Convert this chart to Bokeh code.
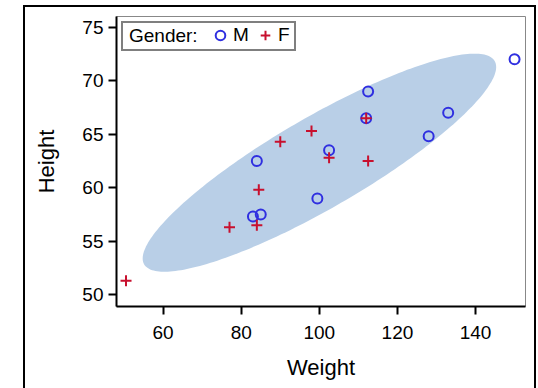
import numpy as np
from bokeh.plotting import figure
from bokeh.models import Range1d, Legend, LegendItem, FixedTicker
from bokeh.embed import file_html
from bokeh.resources import INLINE

# sashelp.class: Weight / Height by gender
male_weight = [112.5, 102.5, 83.0, 84.0, 99.5, 150.0, 128.0, 133.0, 85.0, 112.0]
male_height = [69.0, 63.5, 57.3, 62.5, 59.0, 72.0, 64.8, 67.0, 57.5, 66.5]
female_weight = [84.0, 98.0, 102.5, 84.5, 112.5, 50.5, 90.0, 77.0, 112.0]
female_height = [56.5, 65.3, 62.8, 59.8, 62.5, 51.3, 64.3, 56.3, 66.5]
x_ticks = [60, 80, 100, 120, 140]
y_ticks = [50, 55, 60, 65, 70, 75]
ellipse_alpha = 0.2

# prediction ellipse from all points
w = np.array(male_weight + female_weight)
h = np.array(male_height + female_height)
n = len(w)
mean = np.array([w.mean(), h.mean()])
cov = np.cov(w, h)
m = n - 2
fq = (m / 2.0) * (ellipse_alpha ** (-2.0 / m) - 1.0)
c = np.sqrt(2.0 * (n + 1) * (n - 1) / (n * (n - 2)) * fq)
L = np.linalg.cholesky(cov)
t = np.linspace(0, 2 * np.pi, 240)
pts = mean[:, None] + c * (L @ np.vstack([np.cos(t), np.sin(t)]))

FONT = "Liberation Sans"
W, H = 509, 381
MB_TOP, MB_BOTTOM = 9, 82
FRAME_H = H - MB_TOP - MB_BOTTOM

p = figure(width=W, height=H, output_backend="svg", toolbar_location=None,
           x_range=Range1d(48.06, 152.8), y_range=Range1d(48.9, 76.0),
           min_border_left=91, min_border_right=9, min_border_top=MB_TOP,
           min_border_bottom=MB_BOTTOM)
p.margin = (7, 0, 0, 25)
p.styles = {"box-shadow": "0 0 0 2px black"}

p.patch(pts[0], pts[1], fill_color="#B9CFE7", line_color=None)
rm = p.scatter(male_weight, male_height, marker="circle", size=10,
               fill_color=None, line_color="#2F2FE0", line_width=2)
rf = p.scatter(female_weight, female_height, marker="cross", size=11,
               line_color="#C8102E", line_width=2)
rdummy = p.scatter([], [], marker="circle", size=0, line_color=None,
                   fill_color=None)

p.grid.visible = False
p.outline_line_color = "#888888"
p.outline_line_width = 1

for ax in (p.xaxis[0], p.yaxis[0]):
    ax.axis_line_color = "black"
    ax.axis_line_width = 2
    ax.major_tick_line_color = "black"
    ax.major_tick_line_width = 2
    ax.major_tick_out = 8
    ax.major_tick_in = 0
    ax.minor_tick_line_color = None
    ax.major_label_text_font = FONT
    ax.major_label_text_font_size = "19px"
    ax.major_label_text_color = "black"
    ax.axis_label_text_font = FONT
    ax.axis_label_text_font_size = "22px"
    ax.axis_label_text_font_style = "normal"
    ax.axis_label_text_color = "black"

p.xaxis[0].ticker = FixedTicker(ticks=x_ticks)
p.yaxis[0].ticker = FixedTicker(ticks=y_ticks)
p.xaxis[0].axis_label = "Weight"
p.yaxis[0].axis_label = "Height"
p.xaxis[0].major_label_standoff = 11
p.yaxis[0].major_label_standoff = 5
p.xaxis[0].axis_label_standoff = 13
p.yaxis[0].axis_label_standoff = 20

LEG_PAD, LEG_ROW, LEG_MARGIN = 1, 24, 5


def style_legend(lg):
    lg.label_text_font = FONT
    lg.label_text_font_size = "19px"
    lg.label_text_color = "black"
    lg.padding = LEG_PAD
    lg.glyph_height = LEG_ROW
    lg.label_height = 20
    lg.background_fill_alpha = 0
    lg.orientation = "horizontal"


# bordered box holding the "Gender:" title
legend_box = Legend(items=[LegendItem(label="Gender:", renderers=[rdummy])],
                    location="top_left")
style_legend(legend_box)
legend_box.margin = LEG_MARGIN
legend_box.glyph_width = 5
legend_box.label_standoff = 0
legend_box.label_width = 164
legend_box.border_line_color = "black"
legend_box.border_line_width = 2
p.add_layout(legend_box, "center")

# M / F entries inside the box
legend_items = Legend(items=[LegendItem(label="M", renderers=[rm]),
                             LegendItem(label="F", renderers=[rf])],
                      location=(92, FRAME_H - LEG_MARGIN - (2 * LEG_PAD + LEG_ROW)))
style_legend(legend_items)
legend_items.margin = 0
legend_items.glyph_width = 24
legend_items.label_standoff = 1
legend_items.spacing = 0
legend_items.border_line_color = None
p.add_layout(legend_items, "center")

open("out.html", "w").write(file_html(p, INLINE))
